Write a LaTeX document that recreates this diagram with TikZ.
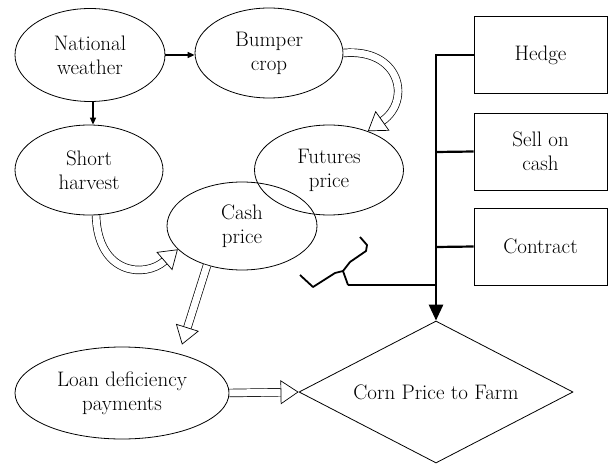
\documentclass[tikz,border=0pt]{standalone}
\usetikzlibrary{arrows.meta,shapes.geometric}
\begin{document}
\begin{tikzpicture}[x=1pt,y=-1pt,
  font=\fontsize{21}{24}\selectfont,
  ell/.style={draw,ellipse,line width=0.8pt,inner sep=0pt,align=center},
  box/.style={draw,rectangle,line width=0.8pt,inner sep=0pt,align=center,minimum width=133pt,minimum height=77pt},
  thin arrow/.style={line width=1.3pt,-{Triangle[length=7pt,width=6pt]}},
  thick/.style={line width=2.8pt},
  hollow/.style={double=white,double distance=7pt,line width=0.7pt,
     -{Triangle[open,length=18pt,width=24pt,line width=0.7pt]}}]
\useasboundingbox (0,0) rectangle (610,465);

\node[ell,minimum width=150pt,minimum height=93pt] (nw) at (90,55) {National\\weather};
\node[ell,minimum width=148pt,minimum height=90pt] (bc) at (269,53) {Bumper\\crop};
\node[ell,minimum width=148pt,minimum height=90pt] (sh) at (89,170) {Short\\harvest};
\node[ell,minimum width=149pt,minimum height=90pt] (fp) at (329,170) {Futures\\price};
\node[ell,minimum width=150pt,minimum height=88pt] (cp) at (242,226) {Cash\\price};
\node[ell,minimum width=214pt,minimum height=92pt] (ld) at (122,393) {Loan deficiency\\payments};
\node[draw,diamond,line width=0.8pt,inner sep=0pt,minimum width=274pt,minimum height=142pt,aspect=1.93] (cf) at (436,392) {Corn Price to Farm};

\node[box] (hd) at (540.5,55) {Hedge};
\node[box] (sc) at (540.5,151.5) {Sell on\\cash};
\node[box] (ct) at (540.5,246.5) {Contract};

% thin arrows
\draw[thin arrow] (nw.east) -- (nw.east -| bc.west);
\draw[thin arrow] ([xshift=3pt]nw.south) -- ([xshift=3pt]nw.south |- sh.north);

% hollow arrows
\draw[hollow] (bc.east) .. controls (400,48) and (412,100) .. (fp.45);
\draw[hollow] ([xshift=7pt]sh.south) .. controls (98,275) and (145,278) .. (cp.200);
\draw[hollow] ([xshift=-35pt,yshift=5pt]cp.south) -- ([xshift=60pt,yshift=2pt]ld.north);
\draw[hollow] (ld.east) -- (cf.west);

% thick decision lines
\coordinate (j2) at (436,152);
\coordinate (j3) at (436,247);
\coordinate (j4) at (436,285);
\coordinate (bt) at (348,285);
\draw[thick,-{Triangle[length=16pt,width=14pt]}] (hd.west) -- (hd.west -| cf.north) -- (cf.north);
\draw[line width=2.2pt] (sc.west) -- (j2);
\draw[line width=2.2pt] (ct.west) -- (j3);
\draw[thick] (bt) -- (j4);
% brace
\draw[line width=1.8pt,line join=round] (300,275) -- (313,287) -- (335,273) -- (343,271) -- (bt);
\draw[line width=1.8pt,line join=round] (343,271) -- (350,262) -- (366,251) -- (367,245) -- (360,237);
\end{tikzpicture}
\end{document}
